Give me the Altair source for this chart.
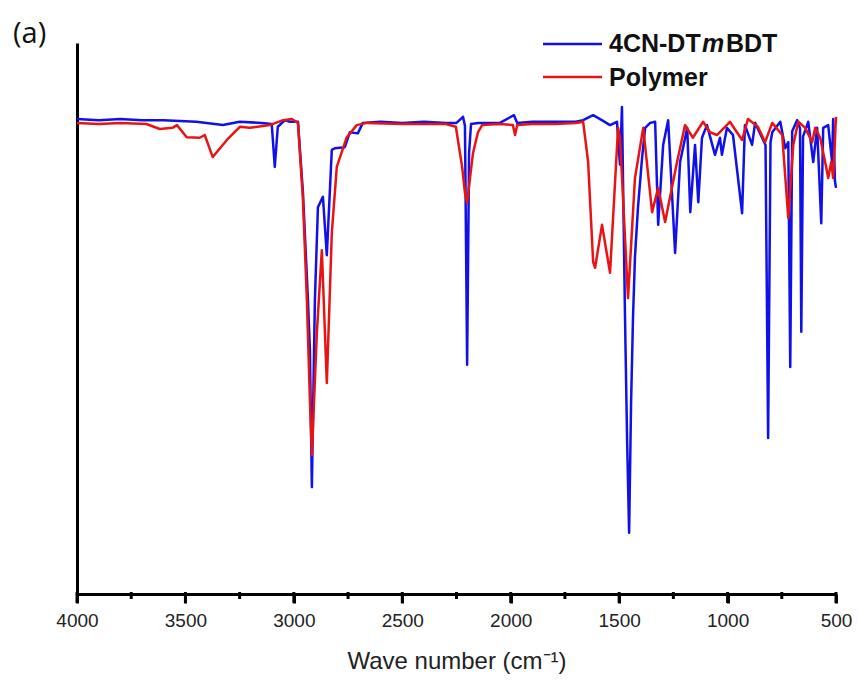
import altair as alt
import pandas as pd

# ---- data ----
blue_wn = [4000, 3900, 3800, 3700, 3600, 3450, 3327, 3250, 3150, 3102, 3088, 3074, 3041, 3018,
           2981, 2958, 2935, 2926, 2917, 2903, 2889, 2866, 2848, 2825, 2811, 2765, 2742, 2705,
           2682, 2600, 2500, 2400, 2300, 2250, 2220, 2211, 2201, 2192, 2183, 2150, 2050, 1985,
           1970, 1900, 1800, 1700, 1666, 1620, 1580, 1542, 1510, 1496, 1487, 1473, 1463, 1454,
           1445, 1436, 1427, 1413, 1394, 1380, 1357, 1334, 1320, 1297, 1274, 1242, 1219, 1186,
           1172, 1150, 1135, 1118, 1095, 1058, 1035, 1026, 1003, 975, 933, 920, 887, 873, 841,
           825, 813, 802, 794, 757, 734, 720, 711, 702, 679, 666, 660, 652, 628, 605, 587, 568,
           559, 536, 518, 513, 505, 500]
blue_t = [86.2, 86.0, 86.2, 86.0, 86.0, 85.7, 85.1, 85.7, 85.5, 85.3, 77.5, 84.8, 86.0, 85.7,
          85.7, 72.8, 53.4, 44.3, 19.4, 53.4, 70.2, 72.1, 61.5, 80.6, 80.9, 81.1, 83.8, 83.6,
          85.5, 85.7, 85.5, 85.7, 85.5, 85.5, 86.6, 85.0, 41.6, 80.0, 85.3, 85.5, 85.5, 86.9,
          85.5, 85.7, 85.7, 85.7, 86.0, 86.9, 86.0, 85.1, 85.7, 77.9, 88.4, 50.3, 27.4, 11.1,
          34.7, 50.3, 61.2, 70.2, 79.3, 84.6, 85.5, 85.7, 67.0, 81.5, 86.0, 61.9, 78.4, 84.6,
          69.3, 81.5, 71.1, 82.8, 85.1, 79.7, 82.8, 79.7, 84.6, 83.3, 69.1, 85.1, 81.5, 85.5, 82.8,
          81.5, 28.3, 82.0, 83.8, 85.7, 80.9, 82.0, 41.2, 84.0, 86.0, 84.5, 47.6, 83.0, 85.7, 78.4, 84.6, 67.3,
          84.6, 85.1, 78.4, 86.2, 75.0, 73.7]

red_wn = [4000, 3900, 3800, 3680, 3618, 3560, 3539, 3494, 3434, 3411, 3374, 3309, 3249, 3203,
          3111, 3050, 3009, 2981, 2958, 2940, 2926, 2917, 2894, 2871, 2848, 2825, 2802, 2756,
          2710, 2664, 2500, 2300, 2253, 2224, 2211, 2201, 2187, 2174, 2151, 2132, 2050, 1990,
          1980, 1970, 1900, 1800, 1700, 1666, 1643, 1620, 1611, 1579, 1542, 1505, 1496, 1459,
          1427, 1389, 1348, 1320, 1288, 1233, 1196, 1160, 1113, 1081, 1049, 989, 957, 933, 906,
          860, 827, 794, 748, 720, 697, 674, 642, 610, 596, 573, 550, 536, 522, 513, 500]
red_t = [85.5, 85.3, 85.5, 85.3, 84.4, 84.6, 85.1, 82.9, 82.8, 83.3, 79.3, 82.4, 84.8, 84.6,
         85.1, 86.0, 86.2, 85.5, 71.5, 53.4, 35.2, 25.2, 47.4, 62.4, 38.3, 65.5, 77.5, 82.9,
         85.1, 85.5, 85.3, 85.3, 84.8, 77.5, 72.8, 71.0, 75.7, 80.0, 83.8, 85.1, 85.3, 85.1,
         83.3, 85.1, 85.3, 85.3, 85.5, 85.7, 78.4, 60.3, 59.2, 67.0, 58.3, 84.6, 82.8, 53.7,
         75.5, 84.6, 69.3, 73.7, 67.5, 78.4, 85.1, 82.8, 85.7, 83.8, 83.3, 85.7, 83.8, 82.4, 86.2,
         84.8, 82.0, 85.5, 83.3, 68.2, 81.5, 85.7, 84.6, 82.0, 84.6, 82.8, 78.4, 75.5, 78.4, 75.5, 86.6]

major_ticks = [4000, 3500, 3000, 2500, 2000, 1500, 1000, 500]
minor_ticks = [3750, 3250, 2750, 2250, 1750, 1250, 750]
series_names = ["4CN-DTmBDT", "Polymer"]
BLUE = "#1010E8"
RED = "#E81414"

blue_df = pd.DataFrame({"wn": blue_wn, "t": blue_t, "series": series_names[0]})
red_df = pd.DataFrame({"wn": red_wn, "t": red_t, "series": series_names[1]})
minor_df = pd.DataFrame({"wn": minor_ticks})
major_df = pd.DataFrame({"wn": major_ticks})

FONT = "Liberation Sans"
x_scale = alt.Scale(domain=[500, 4000], reverse=True, nice=False, zero=False)

x_enc = alt.X(
    "wn:Q",
    scale=x_scale,
    axis=alt.Axis(
        values=major_ticks,
        format="d",
        tickSize=9,
        tickWidth=3,
        tickColor="black",
        domainWidth=3,
        domainColor="black",
        labelFont=FONT,
        labelFontSize=19,
        labelColor="#222222",
        labelPadding=8,
        labelFlush=False,
        labelOverlap=False,
        grid=False,
        title="Wave number (cm⁻¹)",
        titleFont=FONT,
        titleFontSize=24,
        titleFontWeight="normal",
        titleColor="#222222",
        titlePadding=19,
    ),
)
y_enc = alt.Y(
    "t:Q",
    scale=alt.Scale(domain=[0, 100], nice=False, zero=False),
    axis=alt.Axis(domainWidth=3, domainColor="black", tickSize=0, labels=False, grid=False),
    title=None,
)

blue_line = alt.Chart(blue_df).mark_line(color=BLUE, strokeWidth=2.5, strokeJoin="round").encode(
    x=x_enc, y=y_enc, order="wn:Q")
red_line = alt.Chart(red_df).mark_line(color=RED, strokeWidth=2.5, strokeJoin="round").encode(
    x=x_enc, y=y_enc, order="wn:Q")

major_r = alt.Chart(major_df).mark_rule(color="black", strokeWidth=3).encode(
    x=alt.X("wn:Q", scale=x_scale), y=alt.value(549), y2=alt.value(560))
minor_r = alt.Chart(minor_df).mark_rule(color="black", strokeWidth=3).encode(
    x=alt.X("wn:Q", scale=x_scale), y=alt.value(549), y2=alt.value(556))

one = pd.DataFrame({"k": [0]})
leg_blue = alt.Chart(one).mark_rule(color=BLUE, strokeWidth=2.5).encode(
    x=alt.value(466), x2=alt.value(525), y=alt.value(1))
leg_red = alt.Chart(one).mark_rule(color=RED, strokeWidth=2.5).encode(
    x=alt.value(466), x2=alt.value(525), y=alt.value(34))

lab_style = dict(font=FONT, fontSize=25, fontWeight="bold", color="#111111", baseline="alphabetic")
t1 = alt.Chart(one).mark_text(align="left", text="4CN-DT", **lab_style).encode(
    x=alt.value(532), y=alt.value(8.7))
t2 = alt.Chart(one).mark_text(align="left", text="m", fontStyle="italic", **lab_style).encode(
    x=alt.value(625), y=alt.value(8.7))
t3 = alt.Chart(one).mark_text(align="left", text="BDT", **lab_style).encode(
    x=alt.value(649), y=alt.value(8.7))
t4 = alt.Chart(one).mark_text(align="left", text="Polymer", **lab_style).encode(
    x=alt.value(532), y=alt.value(42.7))
panel = alt.Chart(one).mark_text(align="left", text="(a)", font="Open Sans", fontSize=29,
                                 color="#111111", baseline="alphabetic").encode(
    x=alt.value(-64), y=alt.value(0))

chart = alt.layer(blue_line, red_line, major_r, minor_r, leg_blue, leg_red,
                  t1, t2, t3, t4, panel).properties(
    width=759, height=551,
    padding={"left": 77, "top": 43, "right": 22, "bottom": 86},
    autosize="none",
).configure_view(strokeWidth=0)

chart.save("out.html", embed_options={"renderer": "svg", "actions": False})
